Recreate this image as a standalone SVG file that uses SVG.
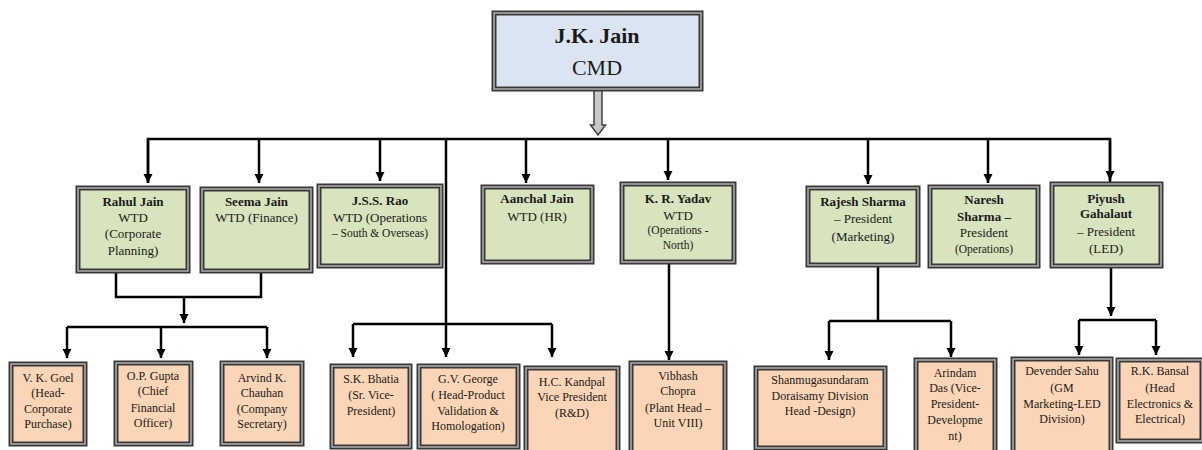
<svg xmlns="http://www.w3.org/2000/svg" width="1202" height="450" viewBox="0 0 1202 450">
<style>
text{font-family:"Liberation Serif","Times New Roman",serif;fill:#1a1a1a;text-anchor:middle}
.b{font-weight:bold}
.t1{font-size:22px}
.t2{font-size:13px}
.t2s{font-size:11.5px}
.t3{font-size:12px}
.o{stroke:#383838;stroke-width:5}
.i{fill:none;stroke:#a8a8a8;stroke-width:1.6}
.blue{fill:#dbe5f1}
.green{fill:#d7e4bd}
.peach{fill:#fbd5b5}
.c{fill:none;stroke:#000;stroke-width:2.5;stroke-linejoin:miter}
.a{marker-end:url(#ah)}
</style>
<defs>
<marker id="ah" markerUnits="userSpaceOnUse" markerWidth="10" markerHeight="10" refX="9" refY="5" orient="auto">
<path d="M0,0.5 L9,5 L0,9.5 z" fill="#000"/>
</marker>
</defs>

<g id="connectors">
<path class="c" d="M148,183 V139 H1110 V183"/>
<path class="c a" d="M148,139 V183"/>
<path class="c a" d="M259,139 V183"/>
<path class="c a" d="M380,139 V181"/>
<path class="c a" d="M446,139 V357"/>
<path class="c a" d="M526,139 V183"/>
<path class="c a" d="M668,139 V180"/>
<path class="c a" d="M868,139 V184"/>
<path class="c a" d="M988,139 V183"/>
<path class="c a" d="M1110,139 V180"/>
<path class="c" d="M116,272 V297 H261 V272"/>
<path class="c a" d="M184,297 V323"/>
<path class="c" d="M67,327 H267"/>
<path class="c a" d="M67,327 V358"/>
<path class="c a" d="M161,327 V358"/>
<path class="c a" d="M267,327 V358"/>
<path class="c" d="M353,324 H552"/>
<path class="c a" d="M353,324 V357"/>
<path class="c a" d="M552,324 V357"/>
<path class="c a" d="M669,263 V360"/>
<path class="c" d="M878,266 V321 M829,321 H951"/>
<path class="c a" d="M829,321 V360"/>
<path class="c a" d="M951,321 V357"/>
<path class="c a" d="M1111,267 V316"/>
<path class="c" d="M1079,320 H1156"/>
<path class="c a" d="M1079,320 V355"/>
<path class="c a" d="M1156,320 V355"/>
<path d="M594,90 V125 H590.5 L598,135 L605.5,125 H602 V90 z" fill="#c8c8c8" stroke="#404040" stroke-width="1.5"/>
</g>

<g id="jk-jain">
<rect class="o blue" x="494" y="13" width="207" height="76"/>
<rect class="i" x="494" y="13" width="207" height="76"/>
<text class="t1 b" x="597" y="43">J.K. Jain</text>
<text class="t1" x="597" y="75">CMD</text>
</g>

<g id="rahul-jain">
<rect class="o green" x="78" y="188" width="110" height="83"/>
<rect class="i" x="78" y="188" width="110" height="83"/>
<text class="t2 b" x="133" y="206">Rahul Jain</text>
<text class="t2" x="133" y="222">WTD</text>
<text class="t2" x="133" y="238">(Corporate</text>
<text class="t2" x="133" y="255">Planning)</text>
</g>

<g id="seema-jain">
<rect class="o green" x="202" y="189" width="109" height="82"/>
<rect class="i" x="202" y="189" width="109" height="82"/>
<text class="t2 b" x="256.5" y="206">Seema Jain</text>
<text class="t2" x="256.5" y="222">WTD (Finance)</text>
</g>

<g id="jss-rao">
<rect class="o green" x="319" y="186" width="122" height="80"/>
<rect class="i" x="319" y="186" width="122" height="80"/>
<text class="t2 b" x="380" y="205">J.S.S. Rao</text>
<text class="t2" x="380" y="222">WTD (Operations</text>
<text class="t2s" x="380" y="237">– South &amp; Overseas)</text>
</g>

<g id="aanchal-jain">
<rect class="o green" x="483" y="187" width="109" height="75"/>
<rect class="i" x="483" y="187" width="109" height="75"/>
<text class="t2 b" x="537" y="203">Aanchal Jain</text>
<text class="t2" x="537" y="221">WTD (HR)</text>
</g>

<g id="kr-yadav">
<rect class="o green" x="622" y="184" width="112" height="78"/>
<rect class="i" x="622" y="184" width="112" height="78"/>
<text class="t2 b" x="678" y="203">K. R. Yadav</text>
<text class="t2" x="678" y="220">WTD</text>
<text class="t2s" x="678" y="234">(Operations -</text>
<text class="t2s" x="678" y="249">North)</text>
</g>

<g id="rajesh-sharma">
<rect class="o green" x="808" y="188" width="110" height="77"/>
<rect class="i" x="808" y="188" width="110" height="77"/>
<text class="t2 b" x="863" y="206">Rajesh Sharma</text>
<text class="t2" x="863" y="223">– President</text>
<text class="t2" x="863" y="241">(Marketing)</text>
</g>

<g id="naresh-sharma">
<rect class="o green" x="930" y="187" width="108" height="79"/>
<rect class="i" x="930" y="187" width="108" height="79"/>
<text class="t2 b" x="984" y="204">Naresh</text>
<text class="t2 b" x="984" y="221">Sharma –</text>
<text class="t2" x="984" y="237">President</text>
<text class="t2s" x="984" y="253">(Operations)</text>
</g>

<g id="piyush-gahalaut">
<rect class="o green" x="1052" y="184" width="109" height="82"/>
<rect class="i" x="1052" y="184" width="109" height="82"/>
<text class="t2 b" x="1106" y="203">Piyush</text>
<text class="t2 b" x="1106" y="218">Gahalaut</text>
<text class="t2" x="1106" y="236">– President</text>
<text class="t2" x="1106" y="253">(LED)</text>
</g>

<g id="vk-goel">
<rect class="o peach" x="11" y="364" width="74" height="80"/>
<rect class="i" x="11" y="364" width="74" height="80"/>
<text class="t3" x="48" y="382">V. K. Goel</text>
<text class="t3" x="48" y="397">(Head-</text>
<text class="t3" x="48" y="413">Corporate</text>
<text class="t3" x="48" y="428">Purchase)</text>
</g>

<g id="op-gupta">
<rect class="o peach" x="116" y="363" width="75" height="81"/>
<rect class="i" x="116" y="363" width="75" height="81"/>
<text class="t3" x="153" y="380">O.P. Gupta</text>
<text class="t3" x="153" y="395">(Chief</text>
<text class="t3" x="153" y="412">Financial</text>
<text class="t3" x="153" y="427">Officer)</text>
</g>

<g id="arvind-chauhan">
<rect class="o peach" x="222" y="363" width="80" height="81"/>
<rect class="i" x="222" y="363" width="80" height="81"/>
<text class="t3" x="262" y="382">Arvind K.</text>
<text class="t3" x="262" y="397">Chauhan</text>
<text class="t3" x="262" y="413">(Company</text>
<text class="t3" x="262" y="428">Secretary)</text>
</g>

<g id="sk-bhatia">
<rect class="o peach" x="332" y="366" width="78" height="81"/>
<rect class="i" x="332" y="366" width="78" height="81"/>
<text class="t3" x="371" y="383">S.K. Bhatia</text>
<text class="t3" x="371" y="399">(Sr. Vice-</text>
<text class="t3" x="371" y="415">President)</text>
</g>

<g id="gv-george">
<rect class="o peach" x="419" y="366" width="99" height="81"/>
<rect class="i" x="419" y="366" width="99" height="81"/>
<text class="t3" x="468" y="383">G.V. George</text>
<text class="t3" x="468" y="399">( Head-Product</text>
<text class="t3" x="468" y="415">Validation &amp;</text>
<text class="t3" x="468" y="430">Homologation)</text>
</g>

<g id="hc-kandpal">
<rect class="o peach" x="526" y="368" width="92" height="86"/>
<rect class="i" x="526" y="368" width="92" height="86"/>
<text class="t3" x="572" y="386">H.C. Kandpal</text>
<text class="t3" x="572" y="401">Vice President</text>
<text class="t3" x="572" y="417">(R&amp;D)</text>
</g>

<g id="vibhash-chopra">
<rect class="o peach" x="631" y="363" width="94" height="91"/>
<rect class="i" x="631" y="363" width="94" height="91"/>
<text class="t3" x="678" y="380">Vibhash</text>
<text class="t3" x="678" y="395">Chopra</text>
<text class="t3" x="678" y="412">(Plant Head –</text>
<text class="t3" x="678" y="427">Unit VIII)</text>
</g>

<g id="shanmugasundaram-doraisamy">
<rect class="o peach" x="756" y="368" width="129" height="80"/>
<rect class="i" x="756" y="368" width="129" height="80"/>
<text class="t3" x="820" y="384">Shanmugasundaram</text>
<text class="t3" x="820" y="400">Doraisamy Division</text>
<text class="t3" x="820" y="415">Head -Design)</text>
</g>

<g id="arindam-das">
<rect class="o peach" x="916" y="360" width="79" height="94"/>
<rect class="i" x="916" y="360" width="79" height="94"/>
<text class="t3" x="955" y="377">Arindam</text>
<text class="t3" x="955" y="392">Das (Vice-</text>
<text class="t3" x="955" y="408">President-</text>
<text class="t3" x="955" y="424">Developme</text>
<text class="t3" x="955" y="440">nt)</text>
</g>

<g id="devender-sahu">
<rect class="o peach" x="1013" y="359" width="98" height="95"/>
<rect class="i" x="1013" y="359" width="98" height="95"/>
<text class="t3" x="1062" y="375">Devender Sahu</text>
<text class="t3" x="1062" y="392">(GM</text>
<text class="t3" x="1062" y="408">Marketing-LED</text>
<text class="t3" x="1062" y="423">Division)</text>
</g>

<g id="rk-bansal">
<rect class="o peach" x="1118" y="360" width="84" height="81"/>
<rect class="i" x="1118" y="360" width="84" height="81"/>
<text class="t3" x="1160" y="375">R.K. Bansal</text>
<text class="t3" x="1160" y="392">(Head</text>
<text class="t3" x="1160" y="408">Electronics &amp;</text>
<text class="t3" x="1160" y="423">Electrical)</text>
</g>
</svg>
